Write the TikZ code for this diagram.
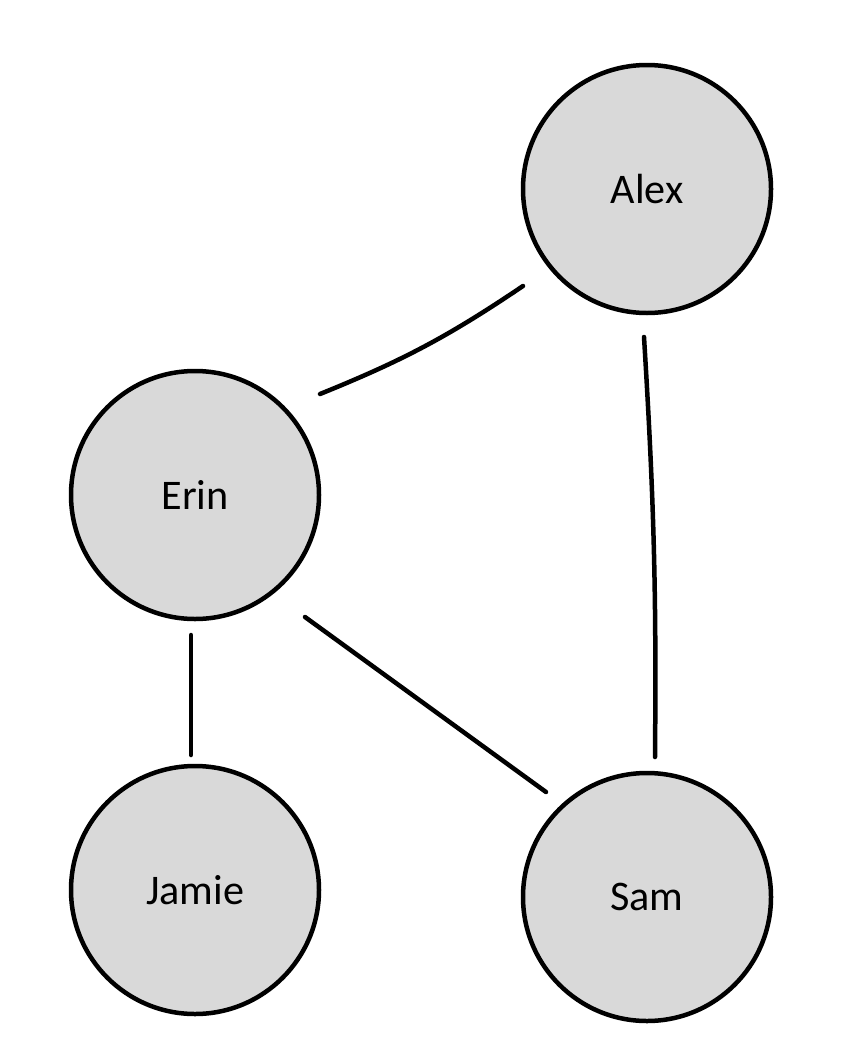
\documentclass[tikz,border=0pt]{standalone}
\usepackage{fontspec}
\setmainfont{Carlito}
\usepackage{xcolor}
\definecolor{NodeGray}{RGB}{217,217,217}
\usepackage{tikz}
\usetikzlibrary{calc}

\begin{document}
\begin{tikzpicture}[
  font=\fontsize{30}{36}\selectfont,
  person/.style={
    circle, draw=black, fill=NodeGray,
    line width=3.2pt,
    minimum size=6.2cm, inner sep=0pt
  },
  link/.style={
    line width=3.2pt, line cap=round, black}
]

\useasboundingbox (0,0) rectangle (21.05,-26.5);

\node[person] (alex)  at (16.175, -4.725)  {Alex};
\node[person] (erin)  at (4.875, -12.375)  {Erin};
\node[person] (jamie) at (4.875, -22.25)   {Jamie};
\node[person] (sam)   at (16.175, -22.425) {Sam};

\draw[link] ($(erin)+(3.125,2.525)$)
  to[bend right=6] ($(alex)+(-3.1,-2.425)$);
\draw[link] ($(alex)+(-0.075,-3.7)$)
  to[bend left=2] ($(sam)+(0.2,3.5)$);
\draw[link] ($(erin)+(-0.1,-3.5)$)
  -- ($(jamie)+(-0.1,3.375)$);
\draw[link] ($(erin)+(2.75,-3.05)$)
  -- ($(sam)+(-2.525,2.625)$);

\end{tikzpicture}
\end{document}
